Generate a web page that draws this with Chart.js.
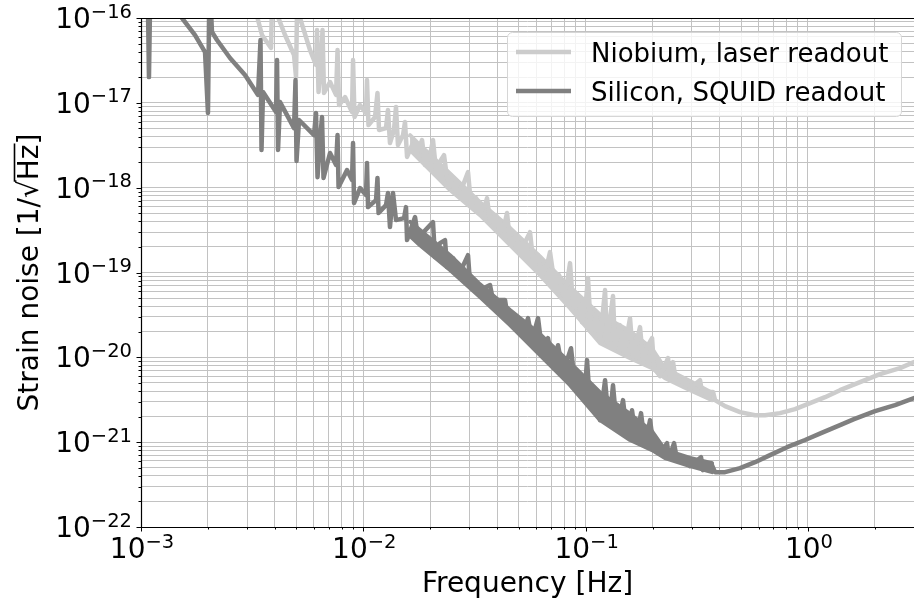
<!DOCTYPE html>
<html>
<head>
<meta charset="utf-8">
<title>Strain noise</title>
<script src="https://cdn.jsdelivr.net/npm/chart.js@4.4.0/dist/chart.umd.min.js"></script>
<style>
  html, body { margin: 0; padding: 0; background: #fff; }
  #wrap { width: 914px; height: 603px; }
</style>
</head>
<body>
<div id="wrap"><canvas id="chartNoise" width="914" height="603"></canvas></div>
<script>
// values (Hz, 1/sqrt(Hz))
const siliconFreq = [
  1.0e-3, 1.07e-3, 1.086e-3, 1.103e-3, 1.529e-3, 1.750e-3, 1.941e-3, 2.001e-3, 2.033e-3, 2.086e-3,
  2.197e-3, 2.514e-3, 2.937e-3, 3.360e-3, 3.448e-3, 3.484e-3, 3.539e-3, 4.049e-3, 4.091e-3, 4.134e-3,
  4.221e-3, 4.879e-3, 4.955e-3, 5.007e-3, 5.138e-3, 6.001e-3, 6.127e-3, 6.223e-3, 6.387e-3, 6.520e-3,
  6.622e-3, 7.085e-3, 7.540e-3, 7.657e-3, 7.737e-3, 8.448e-3, 8.896e-3, 8.990e-3, 9.083e-3, 9.665e-3,
  1.028e-2, 1.039e-2, 1.050e-2, 1.141e-2, 1.158e-2, 1.171e-2, 1.265e-2, 1.291e-2, 1.318e-2, 1.360e-2,
  1.403e-2, 1.525e-2, 1.556e-2, 1.573e-2, 1.709e-2, 1.762e-2, 2.058e-2, 2.101e-2, 2.213e-2, 2.331e-2,
  2.380e-2, 2.533e-2, 2.723e-2, 2.958e-2, 3.020e-2, 3.350e-2, 3.715e-2, 3.832e-2, 4.340e-2, 4.431e-2,
  4.814e-2, 5.070e-2, 5.230e-2, 5.507e-2, 5.740e-2, 6.108e-2, 6.366e-2, 6.774e-2, 7.134e-2, 7.514e-2,
  7.913e-2, 8.597e-2, 8.961e-2, 9.437e-2, 9.836e-2, 0.1015, 0.1047, 0.1102, 0.1161, 0.1223,
  0.1275, 0.1328, 0.1385, 0.1473, 0.1536, 0.1617, 0.1686, 0.1775, 0.1850, 0.1949,
  0.2032, 0.2161, 0.2324, 0.2372, 0.2499, 0.2578, 0.2801, 0.2949, 0.3304, 0.3374,
  0.3666, 0.3821, 0.4237, 0.4951, 0.5781, 0.6752, 0.8054, 0.9705, 1.145, 1.394,
  1.612, 2.004, 2.465, 3.0
];
const siliconNoise = [
  3e-16, 3e-16, 2.01e-17, 3e-16, 1.00e-16, 6.30e-17, 3.97e-17, 7.58e-18, 3e-16, 6.84e-17,
  5.50e-17, 3.38e-17, 2.13e-17, 1.24e-17, 5.50e-17, 2.78e-18, 1.34e-17, 7.79e-18, 3.20e-17, 2.78e-18,
  1.02e-17, 5.04e-18, 1.86e-17, 2.06e-18, 6.27e-18, 4.17e-18, 7.58e-18, 1.33e-18, 3.64e-18, 6.80e-18,
  1.30e-18, 2.56e-18, 1.85e-18, 4.17e-18, 1.02e-18, 1.61e-18, 1.23e-18, 3.36e-18, 6.58e-19, 9.89e-19,
  8.18e-19, 1.95e-18, 5.90e-19, 7.14e-19, 1.30e-18, 5.02e-19, 6.23e-19, 8.64e-19, 3.43e-19, 8.64e-19,
  4.15e-19, 4.38e-19, 5.90e-19, 2.41e-19, 4.50e-19, 2.54e-19, 3.93e-19, 1.52e-19, 2.22e-19, 2.41e-19,
  1.16e-19, 1.48e-19, 1.01e-19, 1.60e-19, 7.50e-20, 6.20e-20, 7.10e-20, 4.73e-20, 4.73e-20, 3.32e-20,
  2.40e-20, 2.75e-20, 1.93e-20, 2.90e-20, 1.60e-20, 2.90e-20, 1.22e-20, 1.68e-20, 8.09e-21, 1.39e-20,
  6.69e-21, 1.28e-20, 4.70e-21, 5.68e-21, 3.13e-21, 9.27e-21, 2.73e-21, 4.10e-21, 1.82e-21, 5.38e-21,
  1.59e-21, 4.70e-21, 1.39e-21, 3.13e-21, 1.21e-21, 2.38e-21, 1.06e-21, 2.20e-21, 9.22e-22, 1.82e-21,
  8.05e-22, 7.42e-22, 9.73e-22, 6.48e-22, 9.73e-22, 6.13e-22, 6.48e-22, 5.21e-22, 6.66e-22, 4.68e-22,
  5.65e-22, 4.43e-22, 4.43e-22, 4.94e-22, 5.81e-22, 7.03e-22, 8.73e-22, 1.06e-21, 1.28e-21, 1.59e-21,
  1.87e-21, 2.32e-21, 2.73e-21, 3.30e-21
];

const niobiumFreq = [
  1.0e-3, 3.093e-3, 3.360e-3, 3.502e-3, 3.845e-3, 3.905e-3, 4.049e-3, 4.445e-3, 4.879e-3, 4.981e-3,
  5.058e-3, 5.192e-3, 5.758e-3, 6.127e-3, 6.191e-3, 6.288e-3, 6.453e-3, 6.554e-3, 6.656e-3, 7.085e-3,
  7.540e-3, 7.657e-3, 7.778e-3, 8.275e-3, 8.896e-3, 8.990e-3, 9.130e-3, 9.665e-3, 1.028e-2, 1.039e-2,
  1.055e-2, 1.129e-2, 1.158e-2, 1.177e-2, 1.265e-2, 1.291e-2, 1.318e-2, 1.374e-2, 1.403e-2, 1.432e-2,
  1.509e-2, 1.540e-2, 1.573e-2, 1.656e-2, 1.726e-2, 1.837e-2, 1.895e-2, 1.995e-2, 2.058e-2, 2.123e-2,
  2.236e-2, 2.307e-2, 2.380e-2, 2.533e-2, 2.667e-2, 2.809e-2, 2.958e-2, 3.051e-2, 3.214e-2, 3.350e-2,
  3.528e-2, 3.602e-2, 3.715e-2, 3.954e-2, 4.121e-2, 4.340e-2, 4.431e-2, 4.571e-2, 4.864e-2, 5.070e-2,
  5.339e-2, 5.622e-2, 5.800e-2, 6.108e-2, 6.366e-2, 6.704e-2, 6.916e-2, 7.209e-2, 7.592e-2, 7.913e-2,
  8.248e-2, 8.509e-2, 8.777e-2, 9.243e-2, 9.634e-2, 0.1004, 0.1025, 0.1057, 0.1114, 0.1161,
  0.1223, 0.1248, 0.1328, 0.1356, 0.1428, 0.1489, 0.1584, 0.1634, 0.1757, 0.1812,
  0.1909, 0.1990, 0.2032, 0.2161, 0.2348, 0.2397, 0.2473, 0.2551, 0.2801, 0.2949,
  0.3270, 0.3339, 0.3743, 0.3821, 0.4237, 0.4951, 0.5781, 0.6412, 0.7489, 0.8750,
  1.022, 1.194, 1.394, 1.715, 2.110, 2.596, 3.0
];
const niobiumNoise = [
  1e-15, 3e-16, 9.47e-17, 6.30e-17, 4.43e-17, 3e-16, 1.18e-16, 6.30e-17, 3.66e-17, 2.01e-17,
  3e-16, 1.00e-16, 4.19e-17, 2.79e-17, 7.22e-17, 1.34e-17, 3.03e-17, 7.22e-17, 1.31e-17, 1.76e-17,
  1.24e-17, 4.19e-17, 9.42e-18, 1.17e-17, 7.79e-18, 3.20e-17, 6.80e-18, 9.42e-18, 7.58e-18, 1.86e-17,
  5.47e-18, 6.80e-18, 1.31e-17, 4.78e-18, 5.04e-18, 8.23e-18, 3.36e-18, 4.78e-18, 8.92e-18, 3.18e-18,
  4.17e-18, 5.94e-18, 2.30e-18, 3.18e-18, 2.42e-18, 3.64e-18, 1.85e-18, 2.42e-18, 3.64e-18, 1.61e-18,
  2.12e-18, 2.42e-18, 1.30e-18, 1.07e-18, 8.87e-19, 1.07e-18, 1.53e-18, 6.23e-19, 7.54e-19, 5.16e-19,
  6.23e-19, 7.54e-19, 3.93e-19, 4.75e-19, 2.99e-19, 3.93e-19, 5.02e-19, 2.28e-19, 2.76e-19, 1.84e-19,
  2.28e-19, 2.99e-19, 1.40e-19, 1.60e-19, 9.32e-20, 1.22e-19, 1.74e-19, 8.14e-20, 9.32e-20, 5.41e-20,
  7.50e-20, 1.29e-19, 4.13e-20, 4.73e-20, 2.60e-20, 4.73e-20, 8.59e-20, 1.98e-20, 2.90e-20, 1.60e-20,
  6.20e-20, 1.51e-20, 5.27e-20, 1.28e-20, 2.40e-20, 1.15e-20, 2.90e-20, 1.03e-20, 2.27e-20, 9.27e-21,
  1.39e-20, 1.68e-20, 7.46e-21, 6.00e-21, 9.79e-21, 5.38e-21, 8.78e-21, 5.10e-21, 5.38e-21, 4.33e-21,
  5.38e-21, 3.89e-21, 3.89e-21, 3.13e-21, 2.66e-21, 2.26e-21, 2.08e-21, 2.08e-21, 2.20e-21, 2.45e-21,
  2.88e-21, 3.39e-21, 4.10e-21, 5.10e-21, 6.34e-21, 7.46e-21, 8.78e-21
];

// solid body of the dense noise band (0.016 - 0.37 Hz); spikes stick out above it
const bandFreq = [
  1.623e-2, 1.799e-2, 2.455e-2, 3.350e-2, 4.571e-2, 6.235e-2, 8.509e-2,
  0.1161, 0.1584, 0.1990, 0.2276, 0.2949, 0.3704
];
const siliconBandUpper = [
  3.96e-19, 3.16e-19, 1.60e-19, 7.25e-20, 3.60e-20, 1.88e-20, 8.66e-21,
  3.86e-21, 2.15e-21, 1.34e-21, 8.10e-22, 6.52e-22, 5.65e-22
];
const siliconBandLower = [
  2.69e-19, 2.10e-19, 1.07e-19, 5.13e-20, 2.40e-20, 1.06e-20, 4.70e-21,
  1.82e-21, 1.06e-21, 8.05e-22, 6.48e-22, 5.21e-22, 4.43e-22
];
const niobiumBandUpper = [
  4.17e-18, 3.18e-18, 1.47e-18, 6.72e-19, 3.36e-19, 1.55e-19, 6.73e-20,
  3.19e-20, 2.04e-20, 1.27e-20, 7.41e-21, 5.24e-21, 3.83e-21
];
const niobiumBandLower = [
  2.78e-18, 2.12e-18, 9.37e-19, 4.75e-19, 2.10e-19, 9.32e-20, 3.80e-20,
  1.47e-20, 9.79e-21, 7.46e-21, 5.68e-21, 4.10e-21, 3.13e-21
];

const seriesLabels = ['Niobium, laser readout', 'Silicon, SQUID readout'];
const seriesColors = ['#cccccc', '#808080'];

// axis decades and their tick label exponents
const xDecades = [1e-3, 1e-2, 1e-1, 1e0];
const xTickExp = ['\u22123', '\u22122', '\u22121', '0'];
const yDecades = [1e-22, 1e-21, 1e-20, 1e-19, 1e-18, 1e-17, 1e-16];
const yTickExp = ['\u221222', '\u221221', '\u221220', '\u221219', '\u221218', '\u221217', '\u221216'];

const FONT = '"DejaVu Sans", sans-serif';

function toPoints(xs, ys) {
  return xs.map((v, i) => ({ x: v, y: ys[i] }));
}

// decade lines plus 2..9 minor lines up to max
function logGrid(decades, max) {
  const out = [];
  decades.forEach(d => {
    for (let m = 1; m <= 9; m++) {
      const v = d * m;
      if (v <= max * 1.0001) out.push({ value: v, major: m === 1 });
    }
  });
  return out;
}

// "10" with a raised exponent
function drawPow(ctx, px, py, exp, align) {
  ctx.font = '28px ' + FONT;
  const wb = ctx.measureText('10').width;
  ctx.font = '19.5px ' + FONT;
  const we = ctx.measureText(exp).width;
  const x0 = align === 'right' ? px - wb - we : px - (wb + we) / 2;
  ctx.textAlign = 'left';
  ctx.textBaseline = 'alphabetic';
  ctx.font = '28px ' + FONT;
  ctx.fillText('10', x0, py);
  ctx.font = '19.5px ' + FONT;
  ctx.fillText(exp, x0 + wb, py - 10.5);
}

const axisArt = {
  id: 'axisArt',
  afterDraw(chart) {
    const { ctx, chartArea: a } = chart;
    const xs = chart.scales.x, ys = chart.scales.y;
    ctx.save();
    ctx.fillStyle = '#000';
    ctx.strokeStyle = '#000';

    // spines
    ctx.lineWidth = 1.2;
    ctx.beginPath();
    ctx.moveTo(a.right, a.top + 0.5);
    ctx.lineTo(a.left + 0.5, a.top + 0.5);
    ctx.lineTo(a.left + 0.5, a.bottom + 0.5);
    ctx.lineTo(a.right, a.bottom + 0.5);
    ctx.stroke();

    // tick marks
    ctx.lineWidth = 1;
    ctx.beginPath();
    xs.ticks.forEach(t => {
      const p = Math.round(xs.getPixelForValue(t.value)) + 0.5;
      ctx.moveTo(p, a.bottom);
      ctx.lineTo(p, a.bottom + (t.major ? 4.5 : 2.5));
    });
    ys.ticks.forEach(t => {
      const p = Math.round(ys.getPixelForValue(t.value)) + 0.5;
      ctx.moveTo(a.left, p);
      ctx.lineTo(a.left - (t.major ? 4.5 : 2.5), p);
    });
    ctx.stroke();

    // tick labels
    xDecades.forEach((d, i) => {
      drawPow(ctx, xs.getPixelForValue(d) + 1, 558, xTickExp[i], 'center');
    });
    yDecades.forEach((d, i) => {
      drawPow(ctx, a.left - 9, ys.getPixelForValue(d) + 10, yTickExp[i], 'right');
    });

    // x title
    ctx.font = '28px ' + FONT;
    ctx.textAlign = 'center';
    ctx.textBaseline = 'alphabetic';
    ctx.fillText('Frequency [Hz]', (a.left + a.right) / 2, 592);

    // y title, rotated, with a radical bar over Hz
    ctx.save();
    ctx.translate(38, (a.top + a.bottom) / 2);
    ctx.rotate(-Math.PI / 2);
    ctx.font = '28px ' + FONT;
    ctx.textAlign = 'left';
    const parts = ['Strain noise [1/', '\u221A', 'Hz', ']'];
    const widths = parts.map(s => ctx.measureText(s).width);
    const total = widths.reduce((s, w) => s + w, 0);
    let cx = -total / 2;
    const starts = [];
    parts.forEach((s, i) => { starts.push(cx); ctx.fillText(s, cx, 0); cx += widths[i]; });
    ctx.lineWidth = 1.6;
    ctx.beginPath();
    ctx.moveTo(starts[1] + widths[1] - 1.5, -23.5);
    ctx.lineTo(starts[2] + widths[2] + 1, -23.5);
    ctx.stroke();
    ctx.restore();

    // legend
    const bx = 507, by = 32, bw = 394, bh = 84;
    ctx.fillStyle = 'rgba(255,255,255,0.8)';
    ctx.strokeStyle = '#d6d6d6';
    ctx.lineWidth = 1;
    ctx.beginPath();
    ctx.roundRect(bx + 0.5, by + 0.5, bw, bh, 5);
    ctx.fill();
    ctx.stroke();
    const rows = [52, 91];
    seriesLabels.forEach((label, i) => {
      ctx.strokeStyle = seriesColors[i];
      ctx.lineWidth = 4.5;
      ctx.lineCap = 'butt';
      ctx.beginPath();
      ctx.moveTo(516, rows[i]);
      ctx.lineTo(571, rows[i]);
      ctx.stroke();
      ctx.fillStyle = '#000';
      ctx.font = '26px ' + FONT;
      ctx.textAlign = 'left';
      ctx.textBaseline = 'alphabetic';
      ctx.fillText(label, 591, rows[i] + 10);
    });
    ctx.restore();
  }
};

const gridStyle = { color: '#c2c2c2', lineWidth: 1, drawTicks: false };

function bandEdge(values, color, order, fill) {
  return {
    label: '',
    data: toPoints(bandFreq, values),
    borderColor: color,
    backgroundColor: color,
    borderWidth: 4,
    fill: fill,
    order: order
  };
}

new Chart(document.getElementById('chartNoise').getContext('2d'), {
  type: 'line',
  data: {
    datasets: [
      {
        label: seriesLabels[1],
        data: toPoints(siliconFreq, siliconNoise),
        borderColor: seriesColors[1],
        borderWidth: 4.5,
        fill: false,
        order: 0
      },
      {
        label: seriesLabels[0],
        data: toPoints(niobiumFreq, niobiumNoise),
        borderColor: seriesColors[0],
        borderWidth: 4.5,
        fill: false,
        order: 2
      },
      bandEdge(siliconBandUpper, seriesColors[1], 1, false),
      bandEdge(siliconBandLower, seriesColors[1], 1, '-1'),
      bandEdge(niobiumBandUpper, seriesColors[0], 3, false),
      bandEdge(niobiumBandLower, seriesColors[0], 3, '-1')
    ]
  },
  options: {
    responsive: false,
    animation: false,
    layout: { padding: { top: 18, left: 0, right: 0, bottom: 0 } },
    elements: {
      point: { radius: 0, hoverRadius: 0 },
      line: { tension: 0, borderJoinStyle: 'round', borderCapStyle: 'round' }
    },
    datasets: { line: { clip: 0 } },
    plugins: {
      legend: { display: false },
      tooltip: { enabled: false },
      filler: { propagate: false }
    },
    scales: {
      x: {
        type: 'logarithmic',
        min: 1e-3,
        max: 3.0,
        afterBuildTicks: s => { s.ticks = logGrid(xDecades, 3.0); },
        afterFit: s => { s.height = 76; },
        ticks: { display: false, autoSkip: false },
        grid: gridStyle,
        border: { display: false }
      },
      y: {
        type: 'logarithmic',
        min: 1e-22,
        max: 1e-16,
        afterBuildTicks: s => { s.ticks = logGrid(yDecades, 1e-16); },
        afterFit: s => { s.width = 141; },
        ticks: { display: false, autoSkip: false },
        grid: gridStyle,
        border: { display: false }
      }
    }
  },
  plugins: [axisArt]
});
</script>
</body>
</html>
